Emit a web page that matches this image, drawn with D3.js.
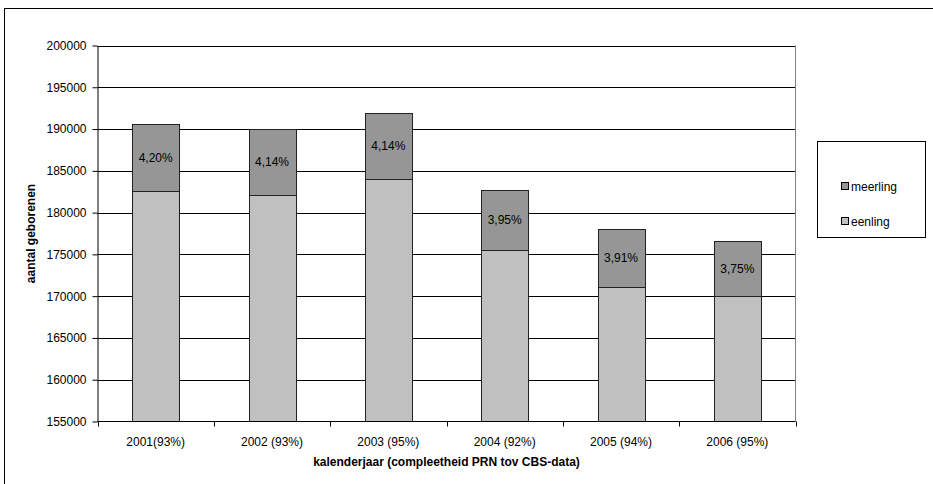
<!DOCTYPE html>
<html>
<head>
<meta charset="utf-8">
<script src="https://cdn.jsdelivr.net/npm/d3@7"></script>
<style>
  html, body { margin: 0; padding: 0; background: #fff; }
  svg { display: block; font-family: "Liberation Sans", Arial, sans-serif; }
</style>
</head>
<body>
<svg id="chart" width="933" height="484"></svg>
<script>
// Births per calendar year, split into singletons and multiples
const categories = ["2001(93%)", "2002 (93%)", "2003 (95%)", "2004 (92%)", "2005 (94%)", "2006 (95%)"];
const eenling  = [182550, 182100, 184000, 175490, 171110, 170020];
const meerling = [8000, 7860, 7940, 7220, 6960, 6620];
const yTicks = [155000, 160000, 165000, 170000, 175000, 180000, 185000, 190000, 195000, 200000];
const seriesNames = ["eenling", "meerling"];
const seriesColors = ["#c0c0c0", "#969696"];

const FONT = "'Liberation Sans', Arial, sans-serif";
const FS = 12;

const svg = d3.select("#chart");
const plot = { left: 97.5, right: 795.5, top: 45.5, bottom: 421.5 };

// outer chart frame
svg.append("rect")
  .attr("x", 4.5).attr("y", 8.5)
  .attr("width", 940).attr("height", 490)
  .attr("fill", "none").attr("stroke", "#000").attr("stroke-width", 1);

const x = d3.scaleBand()
  .domain(categories)
  .range([plot.left, plot.right])
  .paddingInner(0.6)
  .paddingOuter(0.3);

const y = d3.scaleLinear()
  .domain([155000, 200000])
  .range([plot.bottom, plot.top]);

// bars are cut off at the bottom of the value axis
svg.append("defs").append("clipPath").attr("id", "plotClip")
  .append("rect")
  .attr("x", plot.left).attr("y", 0)
  .attr("width", plot.right - plot.left).attr("height", plot.bottom);

// gridlines
svg.append("g")
  .selectAll("line")
  .data(yTicks.slice(1))
  .join("line")
  .attr("x1", plot.left).attr("x2", plot.right)
  .attr("y1", d => Math.round(y(d)) + 0.5).attr("y2", d => Math.round(y(d)) + 0.5)
  .attr("stroke", "#000").attr("stroke-width", 1);

// right edge of plot area
svg.append("line")
  .attr("x1", plot.right).attr("x2", plot.right)
  .attr("y1", plot.top).attr("y2", plot.bottom)
  .attr("stroke", "#808080");

// stacked bars
const rows = categories.map((c, i) => ({ cat: c, eenling: eenling[i], meerling: meerling[i] }));
const stack = d3.stack().keys(seriesNames)(rows);

svg.append("g")
  .attr("clip-path", "url(#plotClip)")
  .selectAll("g")
  .data(stack)
  .join("g")
  .attr("fill", (d, i) => seriesColors[i])
  .selectAll("rect")
  .data(d => d)
  .join("rect")
  .attr("x", d => Math.round(x(d.data.cat)) + 0.5)
  .attr("width", Math.round(x.bandwidth()))
  .attr("y", d => Math.round(y(d[1])) + 0.5)
  .attr("height", d => Math.round(y(Math.max(d[0], y.domain()[0]))) - Math.round(y(d[1])))
  .attr("stroke", "#222").attr("stroke-width", 1);

// percentage of multiples inside the top segment
const fmtPct = v => d3.format(".2f")(v).replace(".", ",") + "%";
svg.append("g")
  .selectAll("text")
  .data(rows)
  .join("text")
  .attr("x", d => x(d.cat) + x.bandwidth() / 2)
  .attr("y", d => (y(d.eenling + d.meerling) + y(d.eenling)) / 2)
  .attr("dy", "0.35em")
  .attr("text-anchor", "middle")
  .attr("font-size", FS)
  .attr("fill", "#000")
  .text(d => fmtPct(d.meerling / (d.eenling + d.meerling) * 100));

// y axis
const yAxis = d3.axisLeft(y).tickValues(yTicks).tickFormat(d3.format("d")).tickSize(5).tickSizeOuter(0);
const gy = svg.append("g").attr("transform", `translate(${plot.left},0)`).call(yAxis);
gy.selectAll("text").attr("font-size", FS).attr("fill", "#000").attr("font-family", FONT).attr("x", -11);
gy.selectAll("line, path").attr("stroke", "#000");

// x axis with tick marks at category boundaries
const gx = svg.append("g").attr("transform", `translate(0,${plot.bottom})`);
gx.append("line")
  .attr("x1", plot.left).attr("x2", plot.right)
  .attr("y1", 0).attr("y2", 0).attr("stroke", "#000");
const bounds = d3.range(categories.length + 1).map(i => plot.left + i * x.step());
gx.selectAll(".tk")
  .data(bounds)
  .join("line")
  .attr("class", "tk")
  .attr("x1", d => Math.round(d) + 0.5).attr("x2", d => Math.round(d) + 0.5)
  .attr("y1", 0).attr("y2", 5)
  .attr("stroke", "#000");
gx.selectAll(".lbl")
  .data(categories)
  .join("text")
  .attr("class", "lbl")
  .attr("x", d => x(d) + x.bandwidth() / 2)
  .attr("y", 20)
  .attr("dy", "0.35em")
  .attr("text-anchor", "middle")
  .attr("font-size", FS)
  .text(d => d);

// axis titles
svg.append("text")
  .attr("x", (plot.left + plot.right) / 2)
  .attr("y", 462)
  .attr("dy", "0.35em")
  .attr("text-anchor", "middle")
  .attr("font-size", FS)
  .attr("font-weight", "bold")
  .text("kalenderjaar (compleetheid PRN tov CBS-data)");

svg.append("text")
  .attr("transform", `translate(31,${(plot.top + plot.bottom) / 2}) rotate(-90)`)
  .attr("dy", "0.35em")
  .attr("text-anchor", "middle")
  .attr("font-size", FS)
  .attr("font-weight", "bold")
  .text("aantal geborenen");

// legend
const legend = svg.append("g");
legend.append("rect")
  .attr("x", 817.5).attr("y", 141.5)
  .attr("width", 108).attr("height", 96)
  .attr("fill", "#fff").attr("stroke", "#000");
const legendItems = [
  { name: seriesNames[1], color: seriesColors[1], cy: 187 },
  { name: seriesNames[0], color: seriesColors[0], cy: 222 }
];
const li = legend.selectAll("g").data(legendItems).join("g");
li.append("rect")
  .attr("x", 841.5).attr("y", d => d.cy - 4.5)
  .attr("width", 7).attr("height", 7)
  .attr("fill", d => d.color).attr("stroke", "#000");
li.append("text")
  .attr("x", 851).attr("y", d => d.cy)
  .attr("dy", "0.35em")
  .attr("font-size", FS)
  .text(d => d.name);
</script>
</body>
</html>
